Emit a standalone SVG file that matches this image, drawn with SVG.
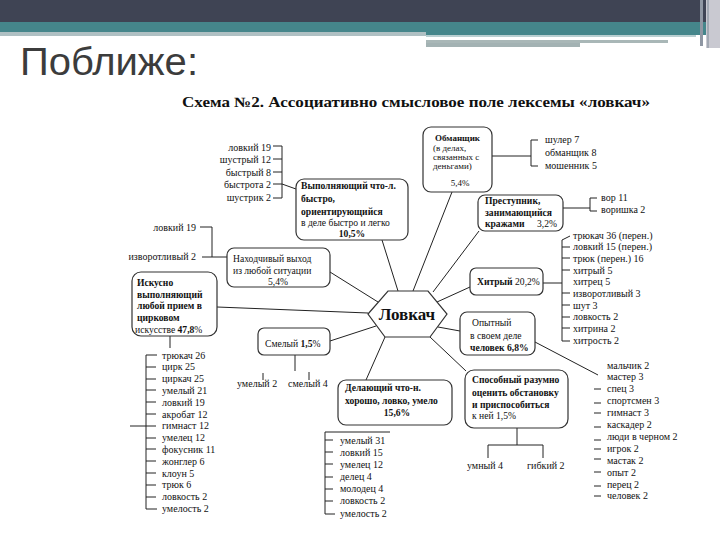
<svg xmlns="http://www.w3.org/2000/svg" width="720" height="540" viewBox="0 0 720 540">
<style>
.t text{font-family:'Liberation Serif','Times New Roman',serif;fill:#111}
.l{font-size:10px}
.b{font-size:9.6px;font-weight:bold}
.r{font-size:9.6px}
.m{text-anchor:middle}
.e{text-anchor:end}
.box{fill:#fff;stroke:#333;stroke-width:1.2}
.ln line{stroke:#222;stroke-width:1;fill:none}
</style>
<rect width="720" height="540" fill="#fff"/>
<g id="header">
<rect x="0" y="0" width="720" height="22" fill="#3f4454"/>
<rect x="0" y="22" width="706" height="11" fill="#45868b"/>
<rect x="426" y="22" width="280" height="13" fill="#45868b"/>
<rect x="0" y="32" width="426" height="4" fill="#afc0c3"/>
<rect x="426" y="35" width="270" height="2" fill="#b9cfd1"/>
<rect x="426" y="40" width="242" height="3" fill="#a9b7b7"/>
<rect x="426" y="43" width="154" height="4" fill="#a3b2b3"/>
<rect x="706" y="0" width="14" height="48" fill="#c9c9d1"/>
<rect x="700" y="0" width="3" height="46" fill="#8f97a3"/>
<rect x="707" y="0" width="2" height="48" fill="#a3a9b3"/>
<text x="20" y="75" style="font-family:'Liberation Sans',Arial,sans-serif;font-size:38px;fill:#3c3c3c" textLength="178" lengthAdjust="spacingAndGlyphs">Поближе:</text>
</g>
<g class="t" style="font-family:'Liberation Serif','Times New Roman',serif">
<text x="182" y="107" style="font-family:'Liberation Serif',serif;font-size:14px;font-weight:bold" textLength="468" lengthAdjust="spacingAndGlyphs">Схема №2. Ассоциативно смысловое поле лексемы «ловкач»</text>

<g id="connectors" class="ln">
<line x1="382" y1="240" x2="398" y2="291"/>
<line x1="452" y1="192" x2="413" y2="291"/>
<line x1="479" y1="231" x2="433" y2="292"/>
<line x1="470" y1="287" x2="437" y2="302"/>
<line x1="460" y1="331" x2="438" y2="327"/>
<line x1="466" y1="371" x2="430" y2="337"/>
<line x1="366" y1="380" x2="385" y2="337"/>
<line x1="330" y1="341" x2="376" y2="326"/>
<line x1="217" y1="307" x2="368" y2="313"/>
<line x1="330" y1="272" x2="378" y2="302"/>
<line x1="282" y1="146" x2="282" y2="198"/>
<line x1="273" y1="146" x2="282" y2="146"/>
<line x1="273" y1="159" x2="282" y2="159"/>
<line x1="273" y1="172" x2="282" y2="172"/>
<line x1="273" y1="184" x2="282" y2="184"/>
<line x1="273" y1="198" x2="282" y2="198"/>
<line x1="282" y1="184" x2="296" y2="189"/>
<line x1="492" y1="156" x2="531" y2="156"/>
<line x1="531" y1="140" x2="531" y2="166"/>
<line x1="531" y1="140" x2="538" y2="140"/>
<line x1="531" y1="166" x2="538" y2="166"/>
<line x1="563" y1="208" x2="590" y2="208"/>
<line x1="590" y1="198" x2="590" y2="211"/>
<line x1="590" y1="198" x2="597" y2="198"/>
<line x1="590" y1="211" x2="597" y2="211"/>
<line x1="543" y1="283" x2="562" y2="283"/>
<line x1="562" y1="240" x2="562" y2="341"/>
<line x1="562" y1="240" x2="570" y2="236"/>
<line x1="562" y1="247" x2="570" y2="247"/>
<line x1="562" y1="258" x2="570" y2="258"/>
<line x1="562" y1="270" x2="570" y2="270"/>
<line x1="562" y1="293" x2="570" y2="293"/>
<line x1="562" y1="305" x2="570" y2="305"/>
<line x1="562" y1="317" x2="570" y2="317"/>
<line x1="562" y1="328" x2="570" y2="328"/>
<line x1="562" y1="341" x2="570" y2="341"/>
<line x1="535" y1="342" x2="598" y2="375"/>
<line x1="594" y1="389" x2="601" y2="389"/>
<line x1="594" y1="403" x2="601" y2="403"/>
<line x1="594" y1="413" x2="601" y2="413"/>
<line x1="594" y1="427" x2="601" y2="427"/>
<line x1="594" y1="440" x2="601" y2="440"/>
<line x1="594" y1="449" x2="601" y2="449"/>
<line x1="594" y1="459" x2="601" y2="459"/>
<line x1="594" y1="472" x2="601" y2="472"/>
<line x1="594" y1="486" x2="601" y2="486"/>
<line x1="594" y1="496" x2="601" y2="496"/>
<line x1="517" y1="428" x2="517" y2="445"/>
<line x1="488" y1="445" x2="543" y2="445"/>
<line x1="488" y1="445" x2="488" y2="458"/>
<line x1="543" y1="445" x2="543" y2="458"/>
<line x1="325" y1="432" x2="390" y2="432"/>
<line x1="325" y1="432" x2="325" y2="514"/>
<line x1="325" y1="440" x2="333" y2="440"/>
<line x1="325" y1="452" x2="333" y2="452"/>
<line x1="325" y1="464" x2="333" y2="464"/>
<line x1="325" y1="477" x2="333" y2="477"/>
<line x1="325" y1="489" x2="333" y2="489"/>
<line x1="325" y1="501" x2="333" y2="501"/>
<line x1="325" y1="514" x2="335" y2="514"/>
<line x1="295" y1="355" x2="295" y2="371"/>
<line x1="263" y1="373" x2="263" y2="380"/>
<line x1="309" y1="372" x2="309" y2="380"/>
<line x1="170" y1="336" x2="170" y2="348"/>
<line x1="146" y1="355" x2="146" y2="509"/>
<line x1="130" y1="426" x2="146" y2="426"/>
<line x1="146" y1="355" x2="157" y2="355"/>
<line x1="146" y1="367" x2="156" y2="367"/>
<line x1="146" y1="379" x2="156" y2="379"/>
<line x1="146" y1="390" x2="156" y2="390"/>
<line x1="146" y1="402" x2="156" y2="402"/>
<line x1="146" y1="414" x2="156" y2="414"/>
<line x1="146" y1="426" x2="156" y2="426"/>
<line x1="146" y1="438" x2="156" y2="438"/>
<line x1="146" y1="449" x2="156" y2="449"/>
<line x1="146" y1="461" x2="156" y2="461"/>
<line x1="146" y1="473" x2="156" y2="473"/>
<line x1="146" y1="485" x2="156" y2="485"/>
<line x1="146" y1="497" x2="156" y2="497"/>
<line x1="146" y1="509" x2="157" y2="509"/>
<line x1="212" y1="227" x2="212" y2="257"/>
<line x1="200" y1="227" x2="212" y2="227"/>
<line x1="202" y1="257" x2="227" y2="257"/>
</g>

<g id="center">
<polygon class="box" points="368,314 388,291 428,291 447,314 430,337 385,337"/>
<text x="407" y="320" class="m" style="font-size:17px;font-weight:bold">Ловкач</text>
</g>

<g id="nodeA">
<rect class="box" x="296" y="179" width="112" height="61" rx="8"/>
<text x="301" y="189" class="b">Выполняющий что-л.</text>
<text x="301" y="202" class="b">быстро,</text>
<text x="301" y="215" class="b">ориентирующийся</text>
<text x="301" y="226" class="r">в деле быстро и легко</text>
<text x="352" y="237" class="b m">10,5%</text>
</g>
<g id="listA">
<text x="271" y="151" class="l e">ловкий 19</text>
<text x="271" y="163" class="l e">шустрый 12</text>
<text x="271" y="175.5" class="l e">быстрый 8</text>
<text x="271" y="187.5" class="l e">быстрота 2</text>
<text x="271" y="200.5" class="l e">шустрик 2</text>
</g>

<g id="nodeB">
<rect class="box" x="423" y="127" width="69" height="65" rx="8"/>
<text x="435" y="141" class="b" style="font-size:9px">Обманщик</text>
<text x="433" y="151" class="r" style="font-size:9px">(в делах,</text>
<text x="433" y="160" class="r" style="font-size:9px">связанных с</text>
<text x="433" y="169" class="r" style="font-size:9px">деньгами)</text>
<text x="460" y="186" class="r m" style="font-size:9px">5,4%</text>
</g>
<g id="listB">
<text x="545" y="143" class="l">шулер 7</text>
<text x="545" y="156" class="l">обманщик 8</text>
<text x="545" y="169" class="l">мошенник 5</text>
</g>

<g id="nodeC">
<rect class="box" x="478" y="195" width="85" height="36" rx="7"/>
<text x="485" y="204" class="b">Преступник,</text>
<text x="485" y="216" class="b">занимающийся</text>
<text x="485" y="227" class="b">кражами</text>
<text x="537" y="227" class="r">3,2%</text>
</g>
<g id="listC">
<text x="601" y="201" class="l">вор 11</text>
<text x="601" y="213" class="l">воришка 2</text>
</g>

<g id="nodeHitryi">
<rect class="box" x="470" y="268" width="73" height="27" rx="6"/>
<text x="477" y="285" class="r"><tspan font-weight="bold">Хитрый</tspan> 20,2%</text>
</g>
<g id="listHitryi">
<text x="573" y="238.5" class="l">трюкач 36 (перен.)</text>
<text x="573" y="250.2" class="l">ловкий 15 (перен.)</text>
<text x="573" y="261.9" class="l">трюк (перен.) 16</text>
<text x="573" y="273.6" class="l">хитрый 5</text>
<text x="573" y="285.3" class="l">хитрец 5</text>
<text x="573" y="297" class="l">изворотливый 3</text>
<text x="573" y="308.7" class="l">шут 3</text>
<text x="573" y="320.4" class="l">ловкость 2</text>
<text x="573" y="332.1" class="l">хитрина 2</text>
<text x="573" y="343.8" class="l">хитрость 2</text>
</g>

<g id="nodeOpytnyi">
<rect class="box" x="460" y="312" width="75" height="43" rx="7"/>
<text x="472" y="326" class="r">Опытный</text>
<text x="470" y="338.5" class="r">в своем деле</text>
<text x="470" y="350.5" class="b">человек 6,8%</text>
</g>
<g id="listOpytnyi">
<text x="607" y="368.5" class="l">мальчик 2</text>
<text x="607" y="380.4" class="l">мастер 3</text>
<text x="607" y="392.3" class="l">спец 3</text>
<text x="607" y="404.2" class="l">спортсмен 3</text>
<text x="607" y="416.1" class="l">гимнаст 3</text>
<text x="607" y="428" class="l">каскадер 2</text>
<text x="607" y="439.9" class="l">люди в черном 2</text>
<text x="607" y="451.8" class="l">игрок 2</text>
<text x="607" y="463.7" class="l">мастак 2</text>
<text x="607" y="475.6" class="l">опыт 2</text>
<text x="607" y="487.5" class="l">перец 2</text>
<text x="607" y="499.4" class="l">человек 2</text>
</g>

<g id="nodeSposobnyi">
<rect class="box" x="465" y="370" width="103" height="58" rx="9"/>
<text x="472" y="382.5" class="b">Способный разумно</text>
<text x="472" y="395.5" class="b">оценить обстановку</text>
<text x="472" y="407.5" class="b">и приспособиться</text>
<text x="472" y="418.5" class="r">к ней 1,5%</text>
</g>
<g id="listSposobnyi">
<text x="467" y="468.5" class="l">умный 4</text>
<text x="527" y="468.5" class="l">гибкий 2</text>
</g>

<g id="nodeDelayushchiy">
<rect class="box" x="338" y="380" width="114" height="45" rx="8"/>
<text x="345" y="390.5" class="b">Делающий что-н.</text>
<text x="345" y="403.5" class="b">хорошо, ловко, умело</text>
<text x="397" y="415.5" class="b m">15,6%</text>
</g>
<g id="listDelayushchiy">
<text x="340" y="443.5" class="l">умелый 31</text>
<text x="340" y="455.7" class="l">ловкий 15</text>
<text x="340" y="467.8" class="l">умелец 12</text>
<text x="340" y="480" class="l">делец 4</text>
<text x="340" y="492.2" class="l">молодец 4</text>
<text x="340" y="504.3" class="l">ловкость 2</text>
<text x="340" y="516.5" class="l">умелость 2</text>
</g>

<g id="nodeSmelyi">
<rect class="box" x="258" y="328" width="72" height="27" rx="6"/>
<text x="265" y="346.5" class="r">Смелый <tspan font-weight="bold">1,5</tspan>%</text>
</g>
<g id="listSmelyi">
<text x="237" y="387" class="l">умелый 2</text>
<text x="288" y="387" class="l">смелый 4</text>
</g>

<g id="nodeIskusno">
<rect class="box" x="132" y="272" width="85" height="64" rx="9"/>
<text x="137" y="285.5" class="b">Искусно</text>
<text x="137" y="297.5" class="b">выполняющий</text>
<text x="137" y="309" class="b">любой прием в</text>
<text x="137" y="320.5" class="b">цирковом</text>
<text x="135" y="332.5" class="r">искусстве <tspan font-weight="bold">47,8</tspan>%</text>
</g>
<g id="listIskusno">
<text x="162" y="358.5" class="l">трюкач 26</text>
<text x="162" y="370.3" class="l">цирк 25</text>
<text x="162" y="382.1" class="l">циркач 25</text>
<text x="162" y="393.9" class="l">умелый 21</text>
<text x="162" y="405.7" class="l">ловкий 19</text>
<text x="162" y="417.5" class="l">акробат 12</text>
<text x="162" y="429.3" class="l">гимнаст 12</text>
<text x="162" y="441.1" class="l">умелец 12</text>
<text x="162" y="452.9" class="l">фокусник 11</text>
<text x="162" y="464.7" class="l">жонглер 6</text>
<text x="162" y="476.5" class="l">клоун 5</text>
<text x="162" y="488.3" class="l">трюк 6</text>
<text x="162" y="500.1" class="l">ловкость 2</text>
<text x="162" y="511.9" class="l">умелость 2</text>
</g>

<g id="nodeNakhodchivyi">
<rect class="box" x="227" y="248" width="103" height="39" rx="7"/>
<text x="233" y="261.5" class="r">Находчивый выход</text>
<text x="233" y="273.5" class="r">из любой ситуации</text>
<text x="278" y="284.5" class="r m">5,4%</text>
</g>
<g id="listNakhodchivyi">
<text x="196" y="230.5" class="l e">ловкий 19</text>
<text x="196" y="260" class="l e">изворотливый 2</text>
</g>
</g>
</svg>
